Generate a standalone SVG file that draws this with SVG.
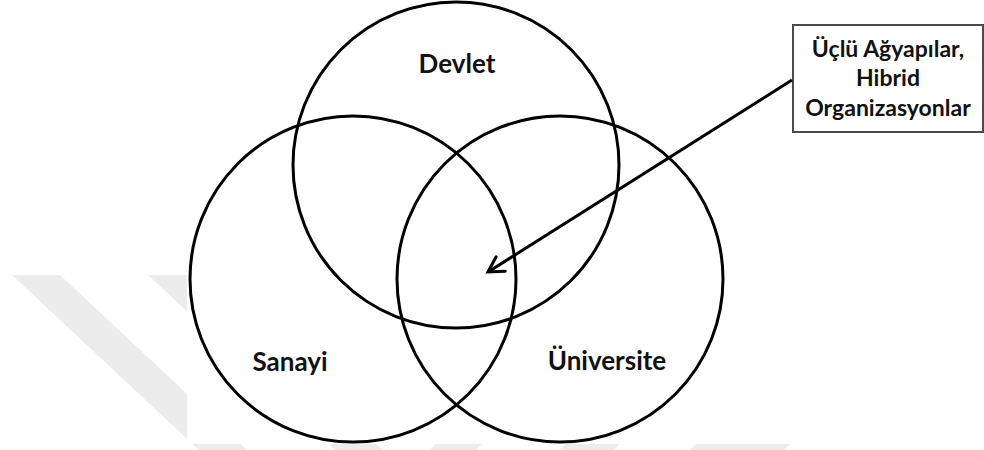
<svg xmlns="http://www.w3.org/2000/svg" width="984" height="450" viewBox="0 0 984 450">
  <style>
    .wm { fill: #ececec; stroke: none; }
    .ring { fill: none; stroke: #000; stroke-width: 3; }
    .lbl { font-family: Lato, "Open Sans", "Liberation Sans", sans-serif; font-weight: bold; fill: #111; text-anchor: middle; }
    .big { font-size: 26px; }
    .small { font-size: 23px; }
    .box { fill: #fff; stroke: #4a4a4a; stroke-width: 2; }
    .conn { fill: none; stroke: #000; stroke-width: 3; }
  </style>
  <defs>
    <marker id="openArrow" markerUnits="userSpaceOnUse" markerWidth="30" markerHeight="30" refX="0" refY="0" viewBox="-20 -15 30 30" orient="auto" overflow="visible">
      <path d="M-15,-8.5 L0,0 L-15,8.5" fill="none" stroke="#000" stroke-width="3" stroke-linecap="round" stroke-linejoin="miter"/>
    </marker>
  </defs>
  <rect x="0" y="0" width="984" height="450" fill="#fff"/>
  <g id="watermark">
    <polygon class="wm" points="12,275 60,275 247,450 199,450"/>
    <polygon class="wm" points="148,275 196,275 383,450 335,450"/>
    <rect x="187" y="0" width="797" height="444" fill="#fff"/>
    <polygon class="wm" points="430,450 436,444 482,444 476,450"/>
    <polygon class="wm" points="560,450 566,444 620,444 614,450"/>
    <polygon class="wm" points="690,450 696,444 790,444 784,450"/>
  </g>
  <g id="devlet">
    <circle class="ring" cx="456" cy="165" r="163"/>
    <text class="lbl big" x="457" y="73">Devlet</text>
  </g>
  <g id="sanayi">
    <circle class="ring" cx="353" cy="279" r="163"/>
    <text class="lbl big" x="290" y="371">Sanayi</text>
  </g>
  <g id="universite">
    <circle class="ring" cx="560" cy="279" r="163"/>
    <text class="lbl big" x="607" y="370">Üniversite</text>
  </g>
  <g id="callout">
    <rect class="box" x="793" y="25" width="190" height="107"/>
    <text class="lbl small" x="888" y="57">Üçlü Ağyapılar,</text>
    <text class="lbl small" x="888" y="86">Hibrid</text>
    <text class="lbl small" x="888" y="116">Organizasyonlar</text>
  </g>
  <g id="connectors">
    <line class="conn" x1="792" y1="80" x2="488" y2="272" marker-end="url(#openArrow)"/>
  </g>
</svg>
